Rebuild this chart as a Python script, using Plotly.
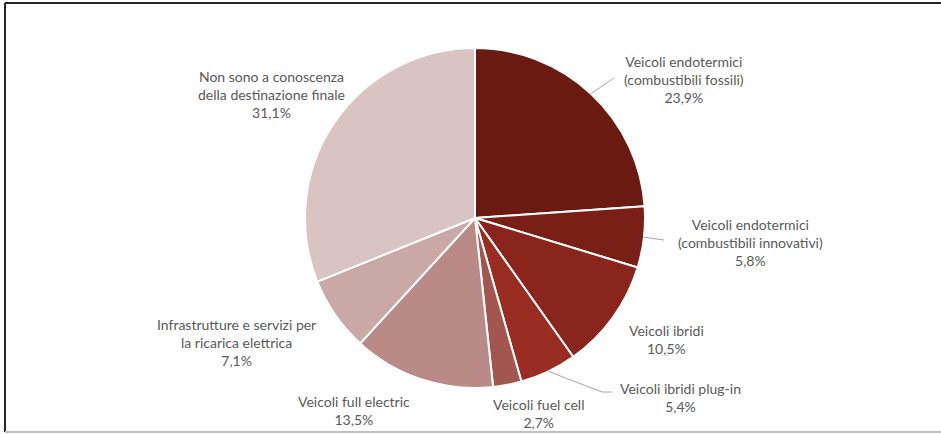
import math
import plotly.graph_objects as go

W, H = 941, 434

# Destinazione delle risorse (quote percentuali)
labels = [
    "Veicoli endotermici<br>(combustibili fossili)",
    "Veicoli endotermici<br>(combustibili innovativi)",
    "Veicoli ibridi",
    "Veicoli ibridi plug-in",
    "Veicoli fuel cell",
    "Veicoli full electric",
    "Infrastrutture e servizi per<br>la ricarica elettrica",
    "Non sono a conoscenza<br>della destinazione finale",
]
values = [23.9, 5.8, 10.5, 5.4, 2.7, 13.5, 7.1, 31.1]
colors = ["#6B1A12", "#7A1F15", "#89251C", "#992D21",
          "#A3554F", "#B98A88", "#CAA8A6", "#D9C3C3"]

# label anchor points (pixel centre of the text block)
label_pos = [(684, 80), (750, 242), (666, 339), (680, 397),
             (538, 413), (354, 410), (236, 342), (271, 94)]
# slices that carry a leader line: index -> elbow/end point in pixels
leaders = {0: [(614, 78)], 1: [(664, 240)], 3: [(602, 392), (612, 392)]}

cx, cy, R = 475, 218, 170


def px(x, y):
    return x / W, 1 - y / H


fig = go.Figure(go.Pie(
    labels=labels,
    values=values,
    sort=False,
    direction="clockwise",
    rotation=0,
    marker=dict(colors=colors, line=dict(color="white", width=2)),
    textinfo="none",
    hoverinfo="label+percent",
    showlegend=False,
    domain=dict(x=[(cx - R) / W, (cx + R) / W],
                y=[1 - (cy + R) / H, 1 - (cy - R) / H]),
))

annotations = []
for lab, v, (x, y) in zip(labels, values, label_pos):
    ax, ay = px(x, y)
    annotations.append(dict(
        x=ax, y=ay, xref="paper", yref="paper",
        text=f"{lab}<br>{v:.1f}%".replace(".", ","),
        showarrow=False, xanchor="center", yanchor="middle", align="center",
        font=dict(family="Lato, Open Sans, sans-serif", size=14, color="#595959"),
    ))

shapes = []
total = sum(values)
cum = 0.0
for i, v in enumerate(values):
    mid = (cum + v / 2) / total * 2 * math.pi
    cum += v
    if i not in leaders:
        continue
    pts = [(cx + R * math.sin(mid), cy - R * math.cos(mid))] + leaders[i]
    for (x0, y0), (x1, y1) in zip(pts[:-1], pts[1:]):
        a0, b0 = px(x0, y0)
        a1, b1 = px(x1, y1)
        shapes.append(dict(type="line", xref="paper", yref="paper",
                           x0=a0, y0=b0, x1=a1, y1=b1,
                           line=dict(color="#A6A6A6", width=1)))

# frame around the chart area
fx0, fy0 = px(5, 3)
fx1, fy1 = px(W, 432)
shapes += [
    dict(type="line", xref="paper", yref="paper", x0=fx0, y0=fy0, x1=1, y1=fy0,
         line=dict(color="#262626", width=2)),
    dict(type="line", xref="paper", yref="paper", x0=fx0, y0=fy0, x1=fx0, y1=fy1,
         line=dict(color="#262626", width=2)),
    dict(type="line", xref="paper", yref="paper", x0=fx0, y0=fy1, x1=1, y1=fy1,
         line=dict(color="#BFBFBF", width=2)),
]

fig.update_layout(
    width=W, height=H,
    margin=dict(l=0, r=0, t=0, b=0),
    paper_bgcolor="white", plot_bgcolor="white",
    annotations=annotations, shapes=shapes,
)

fig.write_html("out.html")
